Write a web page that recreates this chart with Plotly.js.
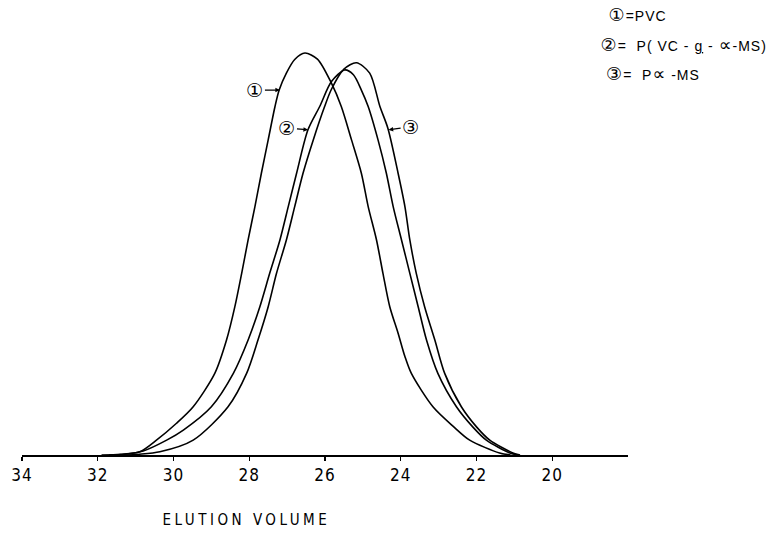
<!DOCTYPE html>
<html>
<head>
<meta charset="utf-8">
<script src="https://cdn.plot.ly/plotly-3.0.1.min.js"></script>
<style>
  html, body { margin: 0; padding: 0; background: #fff; }
  #chart { width: 779px; height: 535px; }
  .xtick text { letter-spacing: 1px; }
</style>
</head>
<body>
<div id="chart"></div>
<script>
// Elution volume (x) and relative detector response (y)
const pvcVolume = [31.9, 31.4, 30.89, 30.45, 29.92, 29.48, 28.91, 28.60, 28.38, 28.20, 28.03, 27.85, 27.68, 27.50, 27.32, 27.21, 27.02, 26.80, 26.53, 26.20, 25.83, 25.57, 25.30, 25.04, 24.86, 24.64, 24.47, 24.29, 24.07, 23.89, 23.72, 23.15, 22.60, 22.18, 21.39, 21.1];
const pvcResponse = [0, 0.2, 0.8, 3.7, 7.9, 12.0, 20.3, 28.6, 36.9, 45.2, 53.5, 61.8, 70.1, 78.4, 86.7, 90.8, 95.0, 98.4, 100, 98.5, 92.5, 86.7, 78.4, 70.1, 61.8, 53.5, 45.2, 36.9, 30.3, 24.5, 20.3, 12.0, 7.0, 3.7, 0.5, 0];

const graftVolume = [31.7, 31.3, 30.80, 30.18, 29.74, 29.00, 28.42, 28.03, 27.72, 27.46, 27.19, 26.97, 26.75, 26.45, 26.14, 25.83, 25.48, 25.25, 25.04, 24.86, 24.60, 24.38, 24.20, 23.98, 23.76, 23.54, 23.32, 23.02, 22.53, 22.10, 21.74, 21.12, 20.9];
const graftResponse = [0, 0.2, 1.0, 3.7, 6.2, 12.0, 20.3, 28.6, 36.9, 45.2, 53.5, 61.8, 70.1, 80.9, 86.7, 92.9, 95.8, 94.6, 90.8, 86.7, 78.4, 70.1, 61.8, 53.5, 45.2, 36.9, 28.6, 20.3, 12.0, 7.0, 3.7, 0.5, 0];

const pamsVolume = [31.3, 30.9, 30.36, 29.48, 28.56, 28.07, 27.77, 27.50, 27.28, 27.02, 26.80, 26.58, 26.31, 26.01, 25.83, 25.50, 25.17, 24.82, 24.55, 24.34, 24.07, 23.89, 23.76, 23.59, 23.37, 23.10, 22.84, 22.40, 22.00, 21.65, 21.04, 20.85];
const pamsResponse = [0, 0.2, 0.8, 3.7, 12.0, 20.3, 28.6, 36.9, 45.2, 53.5, 61.8, 70.1, 78.4, 86.7, 91.0, 96.0, 97.6, 95.0, 86.7, 81.3, 70.1, 61.8, 53.5, 45.2, 36.9, 28.6, 20.3, 12.0, 7.0, 3.7, 0.5, 0];

const tickValues = [34, 32, 30, 28, 26, 24, 22, 20];
const tickLabels = ['34', '32', '30', '28', '26', '24', '22', '20'];

const bigSpan = '<span style="font-family:DejaVu Sans, Noto Sans CJK JP;font-size:18px">';
const legendMarks = ['\u2460', '\u2461', '\u2462'];
const legendTexts = ['=PVC', '=  P( VC - <u>g</u> - ' + bigSpan + '\u221D</span>-MS)', '=  P' + bigSpan + '\u221D</span> -MS'];
const curveLabels = ['\u2460', '\u2461', '\u2462'];
const labelPoints = [[27.19, 90.8], [26.45, 80.9], [24.32, 80.9]];
const xTitle = 'ELUTION VOLUME';

const lineStyle = { color: '#000', width: 1.6, shape: 'spline', smoothing: 0.8 };
const traces = [
  { x: pvcVolume, y: pvcResponse, mode: 'lines', line: lineStyle, hoverinfo: 'skip' },
  { x: graftVolume, y: graftResponse, mode: 'lines', line: lineStyle, hoverinfo: 'skip' },
  { x: pamsVolume, y: pamsResponse, mode: 'lines', line: lineStyle, hoverinfo: 'skip' }
];

const legendFont = { family: 'Liberation Sans, DejaVu Sans, Noto Sans CJK JP, sans-serif', size: 14, color: '#000' };
const labelOffsets = [[-25, 0], [-21, -2], [22, -3]];

const annotations = [];
legendTexts.forEach((t, i) => {
  annotations.push({
    xref: 'paper', yref: 'paper', x: 0.9686, y: [1.062, 0.990, 0.920][i],
    xanchor: 'left', yanchor: 'middle',
    text: bigSpan + legendMarks[i] + '</span>' + t,
    showarrow: false, font: legendFont
  });
});
curveLabels.forEach((t, i) => {
  annotations.push({
    x: labelPoints[i][0], y: labelPoints[i][1], xref: 'x', yref: 'y',
    text: t, showarrow: true, arrowhead: 2, arrowsize: 0.7, arrowwidth: 1.3, arrowcolor: '#000',
    ax: labelOffsets[i][0], ay: labelOffsets[i][1], standoff: 0,
    font: { family: 'DejaVu Sans, Noto Sans CJK JP, sans-serif', size: 19, color: '#000' }
  });
});
annotations.push({
  xref: 'x', yref: 'paper', x: 28.06, y: -0.157, xanchor: 'center', yanchor: 'middle',
  text: xTitle, showarrow: false,
  font: { family: 'DejaVu Sans Condensed, DejaVu Sans, sans-serif', size: 15, color: '#000' }
});

const layout = {
  width: 779, height: 535,
  margin: { l: 22, r: 151, t: 40, b: 80, pad: 0 },
  paper_bgcolor: '#fff', plot_bgcolor: '#fff',
  showlegend: false,
  xaxis: {
    range: [34, 18], autorange: false,
    tickvals: tickValues, ticktext: tickLabels,
    ticks: 'outside', ticklen: 4, tickwidth: 1.2, tickcolor: '#000',
    showline: true, linecolor: '#000', linewidth: 1.5,
    showgrid: false, zeroline: false,
    tickfont: { family: 'Liberation Sans Narrow, DejaVu Sans Condensed, sans-serif', size: 17, color: '#000' }
  },
  yaxis: {
    range: [0, 103.25], autorange: false, visible: false,
    showgrid: false, zeroline: false
  },
  annotations: annotations
};

Plotly.newPlot('chart', traces, layout, { staticPlot: true, displayModeBar: false }).then(() => {
  const texts = document.querySelectorAll('.annotation-text');
  texts.forEach((el, i) => {
    if (i < 3) el.style.letterSpacing = '1px';
    if (i === texts.length - 1) el.style.letterSpacing = '3.5px';
  });
});
</script>
</body>
</html>
